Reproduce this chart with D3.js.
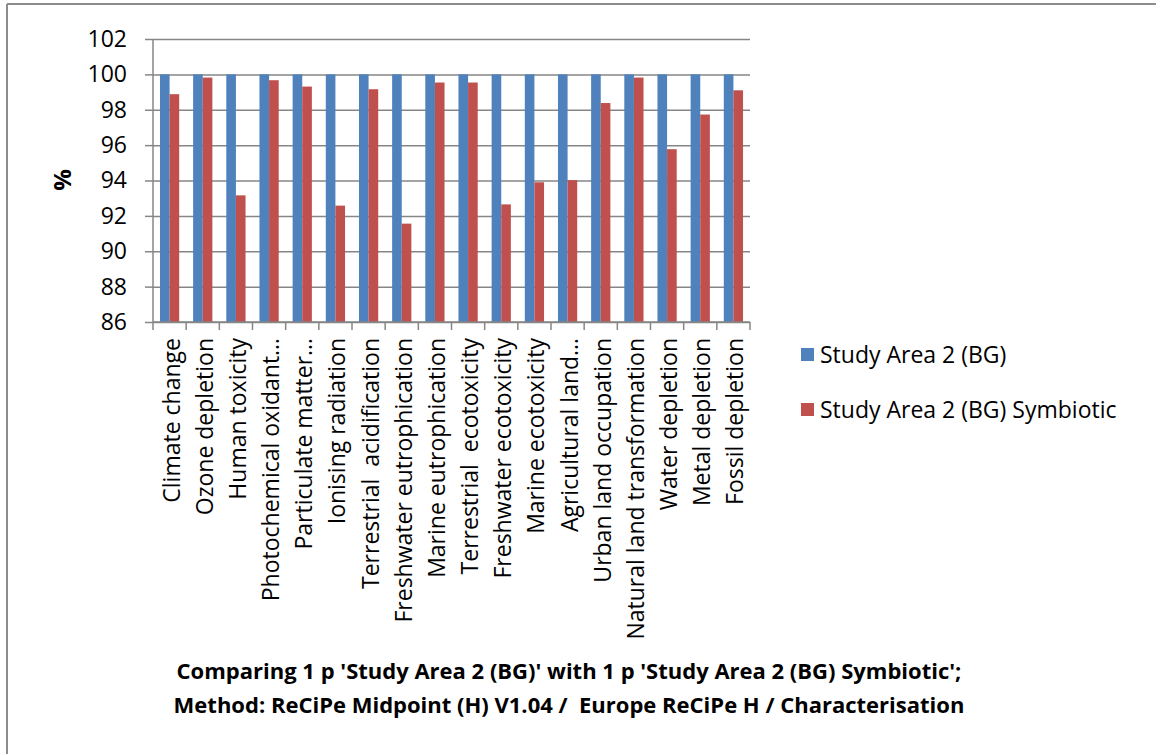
<!DOCTYPE html>
<html>
<head>
<meta charset="utf-8">
<script src="https://cdn.jsdelivr.net/npm/d3@7"></script>
<style>
  body { margin: 0; background: #fff; }
  text { font-family: "Open Sans", sans-serif; fill: #000; white-space: pre; }
</style>
</head>
<body>
<svg width="1156" height="754"></svg>
<script>
// chart data
var categories = ["Climate change", "Ozone depletion", "Human toxicity", "Photochemical oxidant\u2026",
  "Particulate matter\u2026", "Ionising radiation", "Terrestrial  acidification", "Freshwater eutrophication",
  "Marine eutrophication", "Terrestrial  ecotoxicity", "Freshwater ecotoxicity", "Marine ecotoxicity",
  "Agricultural land\u2026", "Urban land occupation", "Natural land transformation", "Water depletion",
  "Metal depletion", "Fossil depletion"];
var seriesNames = ["Study Area 2 (BG)", "Study Area 2 (BG) Symbiotic"];
var baseValues = [100, 100, 100, 100, 100, 100, 100, 100, 100, 100, 100, 100, 100, 100, 100, 100, 100, 100];
var symbioticValues = [98.88, 99.82, 93.16, 99.67, 99.31, 92.58, 99.16, 91.56, 99.54, 99.54, 92.65, 93.9,
  94.02, 98.38, 99.82, 95.77, 97.73, 99.1];
var yTicks = [86, 88, 90, 92, 94, 96, 98, 100, 102];
var titleLines = ["Comparing 1 p 'Study Area 2 (BG)' with 1 p 'Study Area 2 (BG) Symbiotic';",
  "Method: ReCiPe Midpoint (H) V1.04 /  Europe ReCiPe H / Characterisation"];

var colors = ["#4f81bd", "#c0504d"];

var svg = d3.select("svg"),
  width = +svg.attr("width"),
  height = +svg.attr("height");

// frame (top and left edges only)
svg.append("line").attr("x1", 7).attr("x2", width).attr("y1", 4).attr("y2", 4)
  .style("stroke", "#8c8c8c").style("stroke-width", 2);
svg.append("line").attr("x1", 7).attr("x2", 7).attr("y1", 4).attr("y2", height)
  .style("stroke", "#8c8c8c").style("stroke-width", 2);

var plot = { left: 153, right: 750, top: 39, bottom: 322 };

var x = d3.scaleBand()
  .domain(categories)
  .range([plot.left, plot.right])
  .paddingInner(0.42)
  .paddingOuter(0.21);

var x1 = d3.scaleBand()
  .domain([0, 1])
  .range([0, x.bandwidth()]);

var y = d3.scaleLinear()
  .domain([86, 102])
  .range([plot.bottom, plot.top]);

// gridlines
svg.append("g")
  .attr("transform", "translate(" + plot.left + ",0)")
  .call(d3.axisLeft(y).tickValues(yTicks).tickSize(-(plot.right - plot.left)).tickFormat(""))
  .call(function (g) {
    g.select(".domain").remove();
    g.selectAll("line").style("stroke", "#868686").style("stroke-width", 1.5);
  });

// y ticks and labels
svg.append("g")
  .attr("transform", "translate(" + plot.left + ",0)")
  .call(d3.axisLeft(y).tickValues(yTicks).tickSize(8).tickPadding(18))
  .call(function (g) {
    g.select(".domain").remove();
    g.selectAll("line").style("stroke", "#868686").style("stroke-width", 1.5);
    g.selectAll("text").style("font-size", "23px").style("font-family", "Open Sans").attr("fill", "#000");
  });

// bars
var rows = categories.map(function (c, i) { return { cat: c, vals: [baseValues[i], symbioticValues[i]] }; });

svg.append("g")
  .selectAll("g")
  .data(rows)
  .enter().append("g")
  .attr("transform", function (d) { return "translate(" + x(d.cat) + ",0)"; })
  .selectAll("rect")
  .data(function (d) { return d.vals; })
  .enter().append("rect")
  .attr("x", function (d, i) { return x1(i); })
  .attr("width", x1.bandwidth())
  .attr("y", function (d) { return y(d); })
  .attr("height", function (d) { return y(86) - y(d); })
  .attr("fill", function (d, i) { return colors[i]; });

// y axis line
svg.append("line")
  .attr("x1", plot.left).attr("x2", plot.left).attr("y1", plot.top).attr("y2", plot.bottom)
  .style("stroke", "#868686").style("stroke-width", 1.5);

// x axis with ticks at category boundaries
var boundaries = categories.map(function (c) { return x(c) - x.step() * x.paddingInner() / 2; });
boundaries.push(plot.right);
var xAxis = svg.append("g");
xAxis.append("line")
  .attr("x1", plot.left).attr("x2", plot.right).attr("y1", plot.bottom).attr("y2", plot.bottom)
  .style("stroke", "#868686").style("stroke-width", 1.5);
xAxis.selectAll("line.tick")
  .data(boundaries)
  .enter().append("line")
  .attr("class", "tick")
  .attr("x1", function (d) { return d; }).attr("x2", function (d) { return d; })
  .attr("y1", plot.bottom).attr("y2", plot.bottom + 8)
  .style("stroke", "#868686").style("stroke-width", 1.5);

xAxis.selectAll("text")
  .data(categories)
  .enter().append("text")
  .attr("transform", function (d) {
    return "translate(" + (x(d) + x.bandwidth() / 2 + 2) + "," + (plot.bottom + 16) + ") rotate(-90)";
  })
  .attr("text-anchor", "end")
  .attr("dy", "0.35em")
  .style("font-size", "23px")
  .text(function (d) { return d; });

// y axis title
svg.append("text")
  .attr("transform", "translate(63,180) rotate(-90)")
  .attr("text-anchor", "middle")
  .attr("dy", "0.35em")
  .style("font-size", "24px")
  .style("font-weight", "bold")
  .text("%");

// legend
var legend = svg.append("g")
  .selectAll("g")
  .data(seriesNames)
  .enter().append("g")
  .attr("transform", function (d, i) { return "translate(801," + (348 + i * 55) + ")"; });
legend.append("rect")
  .attr("width", 13).attr("height", 13)
  .attr("fill", function (d, i) { return colors[i]; });
legend.append("text")
  .attr("x", 19).attr("y", 7)
  .attr("dy", "0.35em")
  .style("font-size", "23px")
  .text(function (d) { return d; });

// title below chart
svg.append("g")
  .selectAll("text")
  .data(titleLines)
  .enter().append("text")
  .attr("x", 569)
  .attr("y", function (d, i) { return 679 + i * 34; })
  .attr("text-anchor", "middle")
  .style("font-size", "22px")
  .style("font-weight", "bold")
  .text(function (d) { return d; });
</script>
</body>
</html>
